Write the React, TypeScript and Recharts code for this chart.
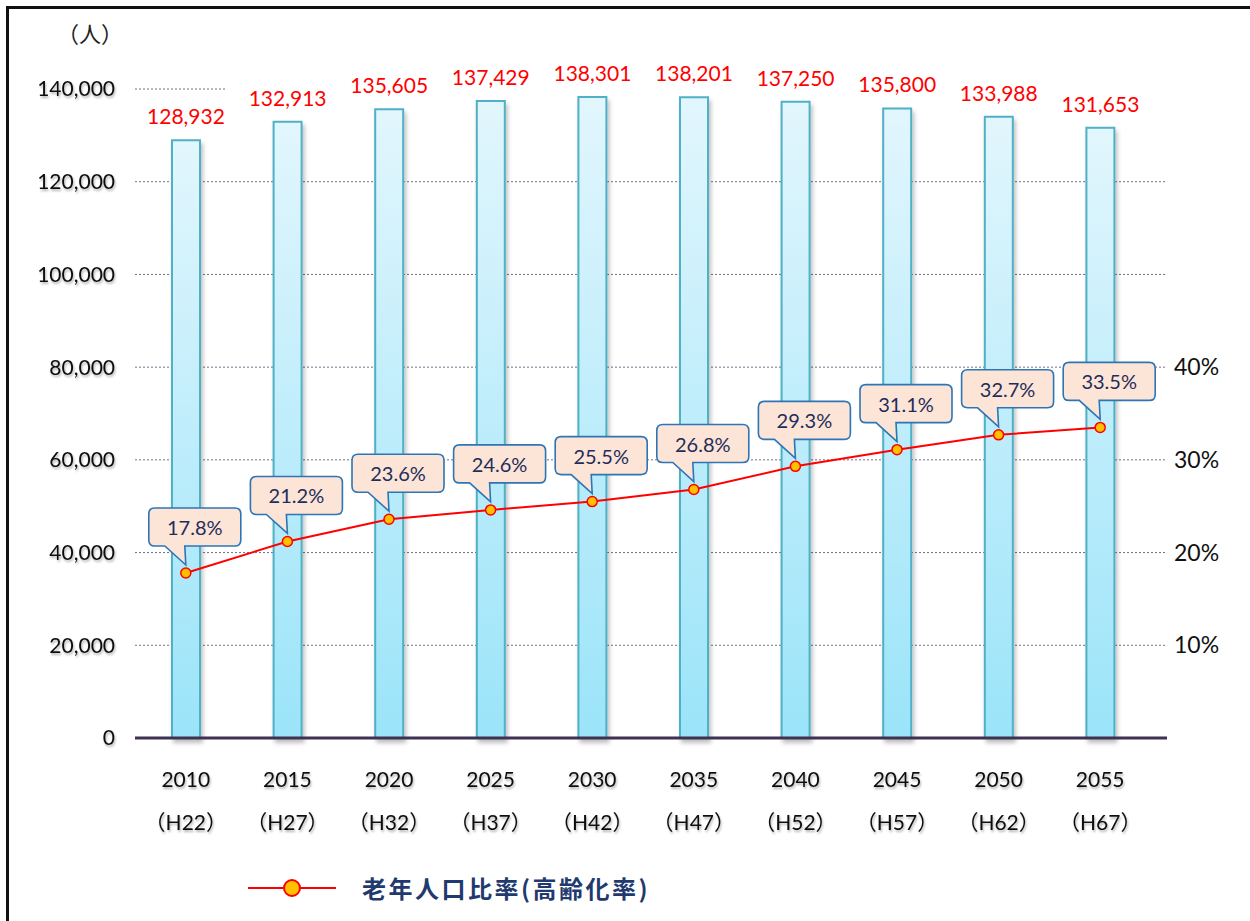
import React from "react";
import {
  ComposedChart,
  Bar,
  Line,
  XAxis,
  YAxis,
  CartesianGrid,
  LabelList,
  ReferenceLine,
} from "recharts";

const years = ["2010", "2015", "2020", "2025", "2030", "2035", "2040", "2045", "2050", "2055"];
const eraLabels = ["H22", "H27", "H32", "H37", "H42", "H47", "H52", "H57", "H62", "H67"];
const population = [128932, 132913, 135605, 137429, 138301, 138201, 137250, 135800, 133988, 131653];
const agingRate = [17.8, 21.2, 23.6, 24.6, 25.5, 26.8, 29.3, 31.1, 32.7, 33.5];

const leftTicks = [0, 20000, 40000, 60000, 80000, 100000, 120000, 140000];
const rightTicks = [10, 20, 30, 40];
const gridValues = [20000, 40000, 60000, 80000, 100000, 120000];

const data = years.map((year, i) => ({
  year,
  era: eraLabels[i],
  population: population[i],
  rate: agingRate[i],
}));

const FONT = "Lato, 'Noto Sans CJK JP', sans-serif";
const CJK = "'Noto Sans CJK JP', sans-serif";

function YearTick({ x, y, payload }: any) {
  const i = years.indexOf(payload.value);
  return (
    <g filter="url(#textShadow)">
      <text x={x} y={y + 40} textAnchor="middle" dominantBaseline="central" fontFamily={FONT} fontSize={21} fill="#111">
        {payload.value}
      </text>
      <text x={x} y={y + 83} textAnchor="middle" dominantBaseline="central" fontFamily={FONT} fontSize={21} fill="#111">
        {"（" + eraLabels[i] + "）"}
      </text>
    </g>
  );
}

// speech-bubble label above each point of the line
function Callout({ x, y, value }: any) {
  if (x == null || y == null) return null;
  const w = 92;
  const h = 38;
  const r = 6;
  const cx = x + 9;
  const B = y - 27;
  const T = B - h;
  const L = cx - w / 2;
  const R = cx + w / 2;
  const a = x - 21;
  const b = x - 1;
  const d = `M${L + r},${T} H${R - r} Q${R},${T} ${R},${T + r} V${B - r} Q${R},${B} ${R - r},${B} H${b} L${x},${y - 8} L${a},${B} H${L + r} Q${L},${B} ${L},${B - r} V${T + r} Q${L},${T} ${L + r},${T} Z`;
  return (
    <g>
      <path d={d} fill="#fce4d6" stroke="#2e75b6" strokeWidth={1.6} />
      <text x={cx} y={B - h / 2} textAnchor="middle" dominantBaseline="central" fontFamily={FONT} fontSize={20} fill="#1f2d5a">
        {Number(value).toFixed(1)}%
      </text>
    </g>
  );
}

export default function App() {
  return (
    <div
      style={{
        position: "absolute",
        left: 6,
        top: 6,
        width: 1243,
        height: 915,
        borderLeft: "3px solid #111",
        borderTop: "3px solid #111",
        borderRight: "1px solid #ccc",
        background: "#fff",
      }}
    >
      <span
        style={{
          position: "absolute",
          left: 48,
          top: 11,
          fontFamily: CJK,
          fontSize: 22,
          lineHeight: "24px",
          color: "#222",
        }}
      >
        （人）
      </span>

      <ComposedChart
        width={1240}
        height={912}
        data={data}
        margin={{ top: 80, right: 0, bottom: 0, left: 0 }}
      >
        <defs>
          <linearGradient id="barFill" x1="0" y1="0" x2="0" y2="1">
            <stop offset="0%" stopColor="#e2f6fd" />
            <stop offset="100%" stopColor="#9be4f9" />
          </linearGradient>
          <filter id="textShadow" x="-10%" y="-30%" width="130%" height="170%">
            <feDropShadow dx="1" dy="2" stdDeviation="1.2" floodColor="#000" floodOpacity="0.3" />
          </filter>
          <filter id="barShadow" x="-30%" y="-5%" width="160%" height="110%">
            <feDropShadow dx="2" dy="4" stdDeviation="2" floodColor="#000" floodOpacity="0.25" />
          </filter>
        </defs>

        <CartesianGrid
          yAxisId="left"
          vertical={false}
          stroke="#6f6f85"
          strokeDasharray="2 2"
          horizontalCoordinatesGenerator={({ offset }: any) =>
            gridValues.map((v) => offset.top + offset.height * (1 - v / 140000))
          }
        />
        <ReferenceLine
          yAxisId="left"
          y={140000}
          shape={(p: any) => (
            <line x1={p.x1} y1={p.y1} x2={p.x1 + 91} y2={p.y1} stroke="#6f6f85" strokeDasharray="2 2" />
          )}
        />

        <XAxis
          dataKey="year"
          height={183}
          padding={{ left: 0, right: 16 }}
          axisLine={{ stroke: "#3f3151", strokeWidth: 3 }}
          tickLine={false}
          tickSize={0}
          tickMargin={0}
          interval={0}
          tick={<YearTick />}
        />
        <YAxis
          yAxisId="left"
          width={126}
          domain={[0, 140000]}
          ticks={leftTicks}
          interval={0}
          axisLine={false}
          tickLine={false}
          tickSize={0}
          tickMargin={20}
          tickFormatter={(v: number) => v.toLocaleString("en-US")}
          tick={{ fill: "#111", fontSize: 21, fontFamily: FONT, filter: "url(#textShadow)" }}
        />
        <YAxis
          yAxisId="right"
          orientation="right"
          width={82}
          domain={[0, 70]}
          ticks={rightTicks}
          interval={0}
          axisLine={false}
          tickLine={false}
          tickSize={0}
          tickMargin={7}
          tickFormatter={(v: number) => `${v}%`}
          tick={{ fill: "#111", fontSize: 23, fontFamily: FONT }}
        />

        <Bar
          yAxisId="left"
          dataKey="population"
          barSize={28}
          fill="url(#barFill)"
          stroke="#4fb0c6"
          strokeWidth={2}
          filter="url(#barShadow)"
          isAnimationActive={false}
        >
          <LabelList
            dataKey="population"
            position="top"
            offset={16}
            fill="#ff0000"
            fontSize={21}
            fontFamily={FONT}
            formatter={(v: any) => Number(v).toLocaleString("en-US")}
          />
        </Bar>

        <Line
          yAxisId="right"
          dataKey="rate"
          stroke="#ff0000"
          strokeWidth={2}
          dot={{ r: 5, fill: "#ffc000", stroke: "#ff0000", strokeWidth: 1.5 }}
          activeDot={false}
          isAnimationActive={false}
        >
          <LabelList dataKey="rate" content={<Callout />} />
        </Line>
      </ComposedChart>

      <svg
        width={110}
        height={36}
        style={{ position: "absolute", left: 231, top: 861 }}
      >
        <line x1={8} y1={18} x2={96} y2={18} stroke="#ff0000" strokeWidth={2} />
        <circle cx={52} cy={18} r={8} fill="#ffc000" stroke="#ff0000" strokeWidth={2} />
      </svg>
      <span
        style={{
          position: "absolute",
          left: 353,
          top: 861,
          lineHeight: "36px",
          fontFamily: CJK,
          fontWeight: 700,
          fontSize: 24,
          letterSpacing: 2.5,
          color: "#1f3a6e",
          whiteSpace: "nowrap",
        }}
      >
        老年人口比率(高齢化率)
      </span>
    </div>
  );
}
